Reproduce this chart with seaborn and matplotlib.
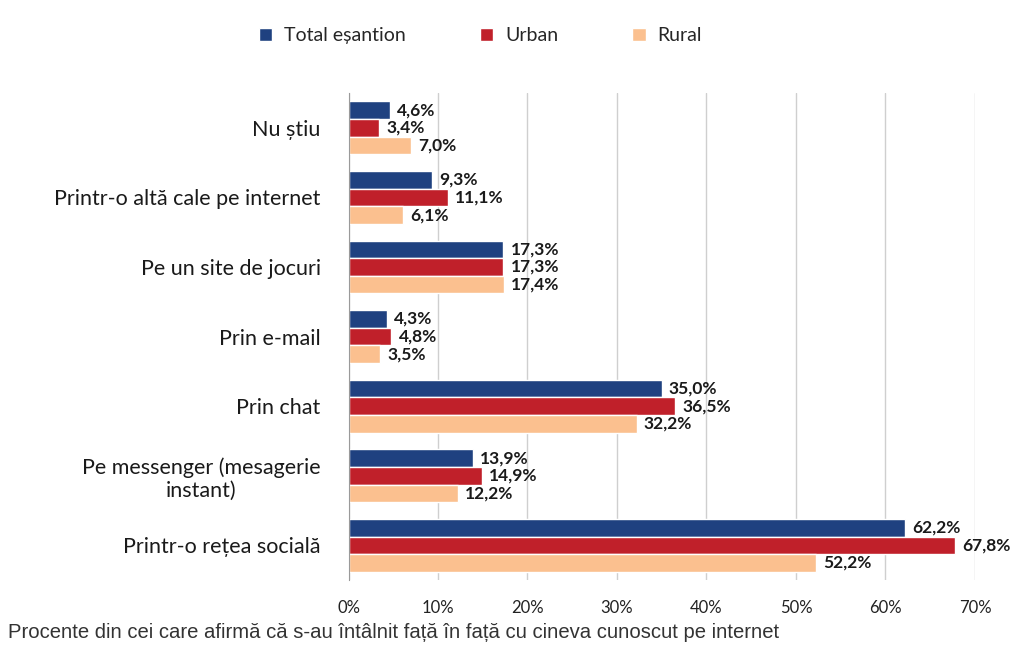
import numpy as np
import pandas as pd
import seaborn as sns
import matplotlib.pyplot as plt

#========================= Data ===============================================
categories = ['Nu știu', 'Printr-o altă cale pe internet', 'Pe un site de jocuri',
              'Prin e-mail', 'Prin chat', 'Pe messenger (mesagerie\ninstant)',
              'Printr-o rețea socială']
series = ['Total eșantion', 'Urban', 'Rural']
total = [4.6, 9.3, 17.3, 4.3, 35.0, 13.9, 62.2]
urban = [3.4, 11.1, 17.3, 4.8, 36.5, 14.9, 67.8]
rural = [7.0, 6.1, 17.4, 3.5, 32.2, 12.2, 52.2]
x_ticks = [0, 10, 20, 30, 40, 50, 60, 70]
footnote = 'Procente din cei care afirmă că s-au întâlnit față în față cu cineva cunoscut pe internet'

colors = ['#1F4180', '#C0202A', '#FBC08F']

df = pd.DataFrame({
    'cat': categories * 3,
    'serie': [series[0]] * 7 + [series[1]] * 7 + [series[2]] * 7,
    'val': total + urban + rural,
})

#========================= Plot ===============================================
sns.set_style('white')
plt.rcParams['font.family'] = ['Lato', 'DejaVu Sans']

fig = plt.figure(figsize=(10.22, 6.46), dpi=100)
ax = fig.add_axes([0.341, 0.102, 0.613, 0.754])

sns.barplot(data=df, y='cat', x='val', hue='serie', order=categories,
            hue_order=series, palette=colors, orient='h', width=0.76,
            saturation=1, ax=ax, legend=True)

# value labels
for cont in ax.containers:
    for bar in cont:
        w = bar.get_width()
        ax.text(w + 0.8, bar.get_y() + bar.get_height() / 2,
                ('%.1f%%' % w).replace('.', ','), va='center', ha='left',
                fontsize=12.5, fontweight='bold', color='#1a1a1a')

ax.set_xlim(0, 70)
ax.set_ylim(6.5, -0.5)
ax.set_xticks(x_ticks)
ax.set_xticklabels(['%d%%' % t for t in x_ticks], fontsize=12, color='#222222')
ax.tick_params(axis='y', labelsize=15.5, length=0, pad=20, labelcolor='#1a1a1a')
ax.tick_params(axis='x', length=0, pad=14)
for lab in ax.get_yticklabels():
    lab.set_multialignment('center')
ax.set_xlabel('')
ax.set_ylabel('')
ax.xaxis.grid(True, color='#cfcfcf', lw=1)
ax.set_axisbelow(True)
for s in ['top', 'right', 'bottom']:
    ax.spines[s].set_visible(False)
ax.spines['left'].set_color('#9a9a9a')

leg = ax.legend(loc='upper center', bbox_to_anchor=(0.47, 0.985),
                bbox_transform=fig.transFigure, ncol=3, frameon=False,
                fontsize=14, handlelength=0.7, handleheight=0.7,
                columnspacing=3.8, handletextpad=0.6)

fig.text(0.008, 0.013, footnote, fontsize=14.6, color='#333333',
         family=['Liberation Sans Narrow', 'Liberation Sans', 'DejaVu Sans'])

plt.savefig('out.png', dpi=100)
